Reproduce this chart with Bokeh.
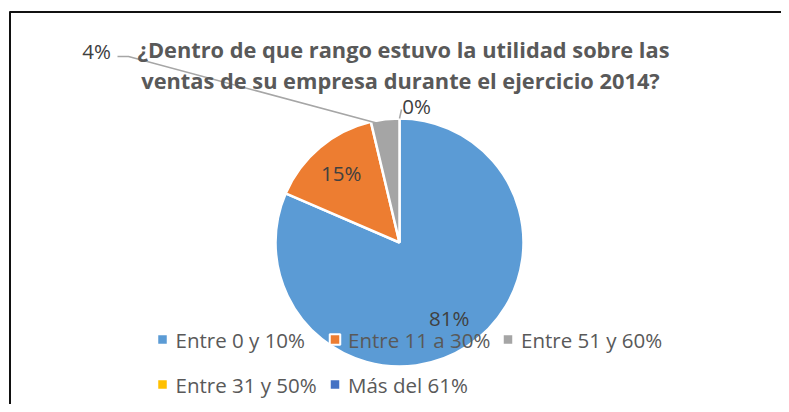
import numpy as np
from bokeh.plotting import figure
from bokeh.models import Range1d
from bokeh.core.properties import value
from bokeh.embed import file_html
from bokeh.resources import INLINE

# ---- data ----
categories = ["Entre 0 y 10%", "Entre 11 a 30%", "Entre 51 y 60%", "Entre 31 y 50%", "Más del 61%"]
counts = [22, 4, 1, 0, 0]
colors = ["#5B9BD5", "#ED7D31", "#A5A5A5", "#FFC000", "#4472C4"]
title_lines = ["¿Dentro de que rango estuvo la utilidad sobre las",
               "ventas de su empresa durante el ejercicio 2014?"]

W, H = 781, 404
FONT = value("Open Sans")


def P(px, py):
    """screenshot pixel -> data coords"""
    return px, H - py


p = figure(width=W, height=H, output_backend="svg", toolbar_location=None,
           x_range=Range1d(0, W), y_range=Range1d(0, H),
           x_axis_location=None, y_axis_location=None, min_border=0,
           background_fill_color="white", border_fill_color="white")
p.grid.visible = False
p.outline_line_color = None

# frame (top and left edges visible)
tx0, ty = P(9, 11.5)
tx1, _ = P(789, 11.5)
lx, ly0 = P(9.5, 11)
_, ly1 = P(9.5, 412)
p.segment(x0=[tx0, lx], y0=[ty, ly0], x1=[tx1, lx], y1=[ty, ly1],
          line_color="#111111", line_width=2)

# pie
cx, cy = P(399, 242)
R = 124
vals = np.array(counts, dtype=float)
frac = vals / vals.sum()
cum = np.concatenate([[0], np.cumsum(frac)])
end_ang = np.pi / 2 - 2 * np.pi * cum[:-1]
start_ang = np.pi / 2 - 2 * np.pi * cum[1:]
mask = frac > 0
p.wedge(x=cx, y=cy, radius=R,
        start_angle=list(start_ang[mask]), end_angle=list(end_ang[mask]),
        fill_color=[c for c, m in zip(colors, mask) if m],
        line_color="white", line_width=2.5)

labels = [f"{round(f * 100):.0f}%" for f in frac]
mid = (start_ang + end_ang) / 2

# inside labels for big slices
inx, iny, intext = [], [], []
for i, f in enumerate(frac):
    if f >= 0.10:
        inx.append(cx + 0.73 * R * np.cos(mid[i]))
        iny.append(cy + 0.73 * R * np.sin(mid[i]))
        intext.append(labels[i])
p.text(x=inx, y=iny, text=intext, text_font=FONT, text_font_size="20.5px",
       text_color="#404040", text_align="center", text_baseline="middle")

# outside label for the small slice (index 2) with leader line
i = 2
ex = cx + 0.95 * R * np.cos(mid[i])
ey = cy + 0.95 * R * np.sin(mid[i])
a = P(117, 56)
b = P(128, 56)
p.line(x=[a[0], b[0], ex], y=[a[1], b[1], ey], line_color="#A6A6A6", line_width=1.5)
lx4, ly4 = P(96, 50)
p.text(x=[lx4], y=[ly4], text=[labels[i]], text_font=FONT, text_font_size="20.5px",
       text_color="#404040", text_align="center", text_baseline="middle")

# zero slices label at the top
zx0 = cx + R * np.cos(end_ang[3])
zy0 = cy + R * np.sin(end_ang[3])
z1 = P(401, 109)
p.line(x=[zx0, z1[0]], y=[zy0, z1[1]], line_color="#A6A6A6", line_width=1.5)
zx, zy = P(416, 105)
p.text(x=[zx], y=[zy], text=[labels[3]], text_font=FONT, text_font_size="20.5px",
       text_color="#404040", text_align="center", text_baseline="middle")

# title
t1 = P(403, 49)
t2 = P(400, 80)
p.text(x=[t1[0], t2[0]], y=[t1[1], t2[1]], text=title_lines, text_font=FONT,
       text_font_size="21.8px", text_font_style="bold", text_color="#595959",
       text_align="center", text_baseline="middle")

# legend (manual, 3 + 2 layout)
mk_pos = [P(162, 339), P(334.5, 339), P(507.5, 339), P(162, 384), P(334.5, 384)]
mx = [m[0] for m in mk_pos]
my = [m[1] for m in mk_pos]
p.scatter(x=mx, y=my, marker="square", size=10.5, fill_color=colors,
          line_color="white", line_width=2)
p.text(x=[m + 13 for m in mx], y=my, text=categories, text_font=FONT,
       text_font_size="20.5px", text_color="#595959", text_align="left",
       text_baseline="middle")

open("out.html", "w").write(file_html(p, INLINE))
